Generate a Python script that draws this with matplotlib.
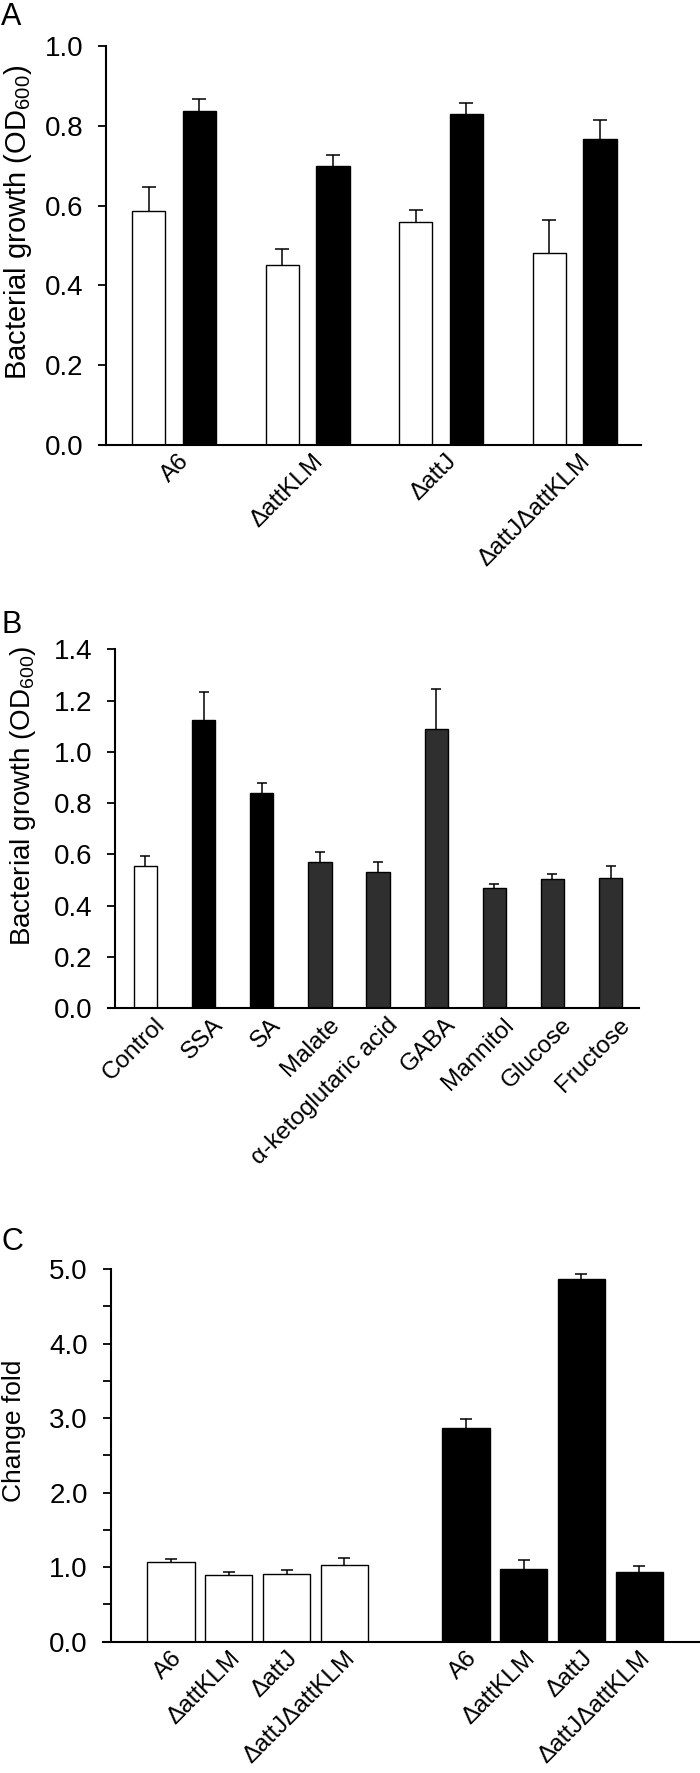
import numpy as np
import matplotlib as mpl
mpl.use('Agg')
from matplotlib import pyplot as plt
from matplotlib.ticker import MultipleLocator, FormatStrFormatter
from matplotlib.transforms import ScaledTranslation

plt.rcParams['font.family'] = ['Liberation Sans', 'DejaVu Sans']
plt.rcParams['mathtext.fontset'] = 'custom'
plt.rcParams['mathtext.rm'] = 'Liberation Sans'
plt.rcParams['mathtext.default'] = 'regular'

############################################################
# Data
############################################################

# A: growth of the strains, two conditions (white / black bars)
strainsA = ['A6', '\u0394attKLM', '\u0394attJ', '\u0394attJ\u0394attKLM']
growthA_white = [0.586, 0.451, 0.560, 0.481]
errA_white = [0.062, 0.041, 0.029, 0.082]
growthA_black = [0.839, 0.699, 0.830, 0.768]
errA_black = [0.030, 0.028, 0.027, 0.046]

# B: growth on different carbon sources
sourcesB = ['Control', 'SSA', 'SA', 'Malate', '\u03b1-ketoglutaric acid',
            'GABA', 'Mannitol', 'Glucose', 'Fructose']
growthB = [0.553, 1.123, 0.841, 0.570, 0.531, 1.088, 0.469, 0.504, 0.508]
errB = [0.039, 0.111, 0.039, 0.039, 0.039, 0.159, 0.017, 0.021, 0.045]
colorsB = ['white', 'black', 'black', '#2f2f2f', '#2f2f2f', '#2f2f2f',
           '#2f2f2f', '#2f2f2f', '#2f2f2f']

# C: change fold, two groups of the same strains
strainsC = ['A6', '\u0394attKLM', '\u0394attJ', '\u0394attJ\u0394attKLM']
foldC_white = [1.068, 0.889, 0.912, 1.023]
errC_white = [0.039, 0.050, 0.056, 0.101]
foldC_black = [2.869, 0.973, 4.871, 0.934]
errC_black = [0.118, 0.118, 0.067, 0.078]

############################################################
# Helpers
############################################################

W, H = 700.0, 1773.0

def rect(left, right, top, bottom):
    """axes rectangle from pixel edges (origin top-left)"""
    return [left / W, 1 - bottom / H, (right - left) / W, (bottom - top) / H]

def style_axes(ax, spine_x):
    for s in ['top', 'right']:
        ax.spines[s].set_visible(False)
    ax.spines['left'].set_position(('data', spine_x))
    ax.spines['left'].set_linewidth(1.5)
    ax.spines['bottom'].set_linewidth(1.5)
    ax.tick_params(axis='y', which='both', direction='out', length=5.5, width=1.3, labelsize=20, pad=11)
    ax.tick_params(axis='x', length=0, labelsize=17.5, pad=4)
    ax.yaxis.set_major_formatter(FormatStrFormatter('%.1f'))

def upper_err(ax, x, y, err, cap):
    eb = ax.errorbar(x, y, yerr=[np.zeros(len(err)), err], fmt='none', ecolor='black',
                     elinewidth=1.1, capsize=cap, capthick=1.1, zorder=3)
    eb[1][0].set_visible(False)   # hide the lower caps sitting on the bar tops

fig = plt.figure(figsize=(7, 17.73), dpi=100)

############################################################
# Panel A
############################################################

axA = fig.add_axes(rect(99, 641, 46.4, 444.6))
xA = np.arange(len(strainsA))
offA = 0.19
axA.bar(xA - offA, growthA_white, width=0.25, color='white', edgecolor='black', linewidth=1.0, zorder=2)
axA.bar(xA + offA, growthA_black, width=0.25, color='black', edgecolor='black', linewidth=1.0, zorder=2)
upper_err(axA, xA - offA, growthA_white, errA_white, 5.2)
upper_err(axA, xA + offA, growthA_black, errA_black, 5.2)
axA.set_xlim(-0.5625, 3.497)
axA.set_ylim(0, 1.0)
axA.yaxis.set_major_locator(MultipleLocator(0.2))
style_axes(axA, -0.51)
axA.set_xticks(xA)
axA.set_xticklabels(strainsA, rotation=45, ha='right', rotation_mode='anchor')
for lab in axA.get_xticklabels():
    lab.set_transform(lab.get_transform() + ScaledTranslation(3 / 72, 0, fig.dpi_scale_trans))

fig.text(18 / W, 1 - 222 / H, 'Bacterial growth (OD$_{600}$)', rotation=90,
         ha='center', va='center', fontsize=21)
fig.text(0.002, 1 - 25 / H, 'A', fontsize=22, va='baseline')

############################################################
# Panel B
############################################################

axB = fig.add_axes(rect(108, 639, 649.3, 1008.2))
xB = np.arange(len(sourcesB))
axB.bar(xB, growthB, width=0.4, color=colorsB, edgecolor='black', linewidth=1.0, zorder=2)
upper_err(axB, xB, growthB, errB, 3.8)
axB.set_xlim(-0.645, 8.49)
axB.set_ylim(0, 1.4)
axB.yaxis.set_major_locator(MultipleLocator(0.2))
style_axes(axB, -0.525)
axB.set_xticks(xB)
axB.set_xticklabels(sourcesB, rotation=45, ha='right', rotation_mode='anchor')
for lab in axB.get_xticklabels():
    lab.set_transform(lab.get_transform() + ScaledTranslation(6 / 72, 0, fig.dpi_scale_trans))

fig.text(23.5 / W, 1 - 796 / H, 'Bacterial growth (OD$_{600}$)', rotation=90,
         ha='center', va='center', fontsize=20)
fig.text(0.002, 1 - 633 / H, 'B', fontsize=22, va='baseline')

############################################################
# Panel C
############################################################

axC = fig.add_axes(rect(102.7, 700, 1269, 1641.7))
gapC = 5.1
xC_white = np.arange(len(strainsC))
xC_black = np.arange(len(strainsC)) + gapC
axC.bar(xC_white, foldC_white, width=0.82, color='white', edgecolor='black', linewidth=1.0, zorder=2)
axC.bar(xC_black, foldC_black, width=0.82, color='black', edgecolor='black', linewidth=1.0, zorder=2)
upper_err(axC, xC_white, foldC_white, errC_white, 4.2)
upper_err(axC, xC_black, foldC_black, errC_black, 4.2)
axC.set_xlim(-1.18, 9.15)
axC.set_ylim(0, 5.0)
axC.yaxis.set_major_locator(MultipleLocator(1.0))
axC.yaxis.set_minor_locator(MultipleLocator(0.5))
style_axes(axC, -1.04)
axC.set_xticks(np.concatenate([xC_white, xC_black]))
axC.set_xticklabels(strainsC + strainsC, rotation=45, ha='right', rotation_mode='anchor')

fig.text(14.5 / W, 1 - 1431 / H, 'Change fold', rotation=90,
         ha='center', va='center', fontsize=19)
fig.text(0.002, 1 - 1250 / H, 'C', fontsize=22, va='baseline')

fig.savefig('out.png', dpi=100, facecolor='w')
